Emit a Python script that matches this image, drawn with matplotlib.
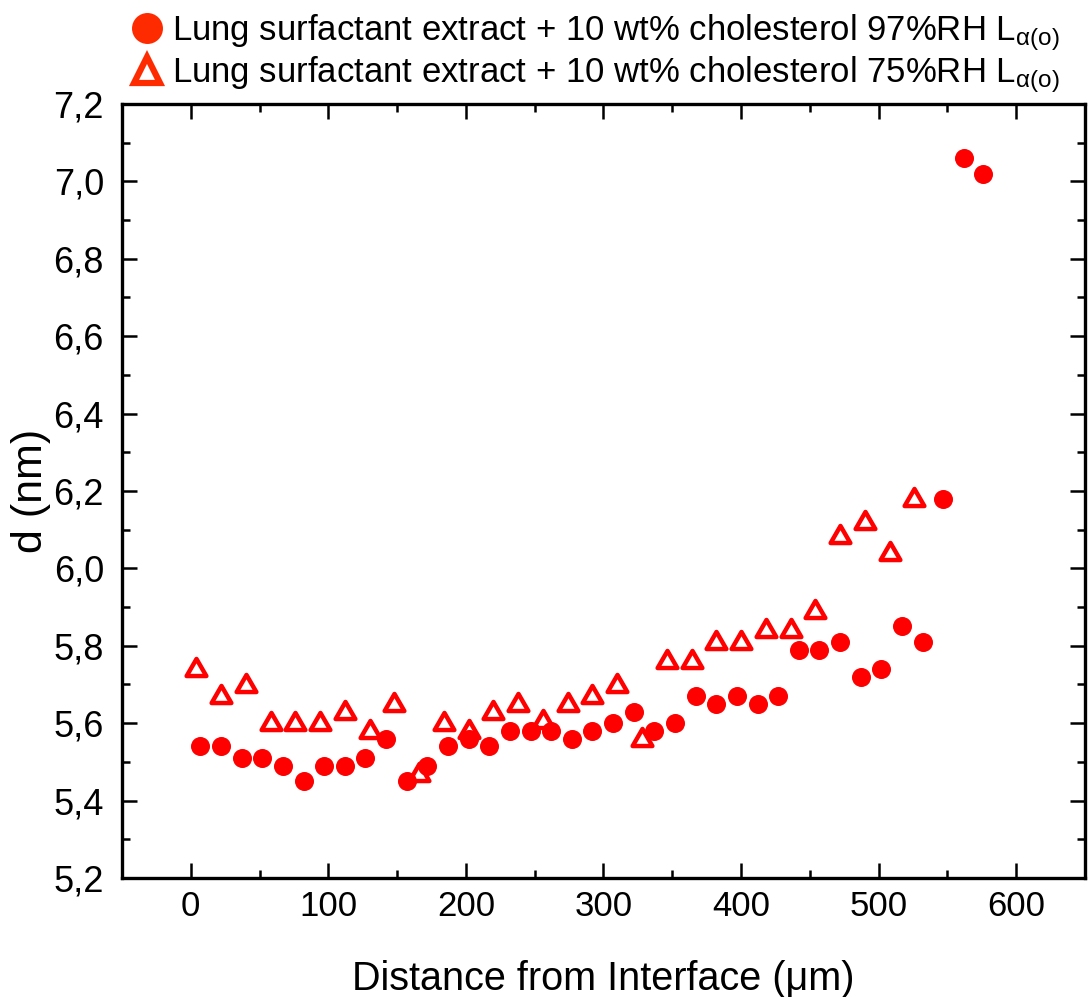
import matplotlib
matplotlib.use("Agg")
import matplotlib.pyplot as plt
from matplotlib.lines import Line2D
from matplotlib.markers import MarkerStyle
from matplotlib.path import Path
from matplotlib.ticker import MultipleLocator, FuncFormatter

plt.rcParams['font.family'] = ['Liberation Sans', 'DejaVu Sans']
plt.rcParams['mathtext.default'] = 'regular'

# 97 %RH, filled circles
x_97 = [7, 22, 37, 52, 67, 82, 97, 112, 127, 142, 157, 172, 187, 202, 217,
        232, 247, 262, 277, 292, 307, 322, 337, 352, 367, 382, 397, 412, 427,
        442, 457, 472, 487, 502, 517, 532, 547, 562, 576]
d_97 = [5.54, 5.54, 5.51, 5.51, 5.49, 5.45, 5.49, 5.49, 5.51, 5.56, 5.45, 5.49,
        5.54, 5.56, 5.54, 5.58, 5.58, 5.58, 5.56, 5.58, 5.60, 5.63, 5.58, 5.60,
        5.67, 5.65, 5.67, 5.65, 5.67, 5.79, 5.79, 5.81, 5.72, 5.74, 5.85, 5.81,
        6.18, 7.06, 7.02]

# 75 %RH, open triangles
x_75 = [4, 22, 40, 58, 76, 94, 112, 130, 148, 166, 184, 202, 220, 238, 256,
        274, 292, 310, 328, 346, 364, 382, 400, 418, 436, 454, 472, 490, 508, 526]
d_75 = [5.745, 5.675, 5.705, 5.605, 5.605, 5.605, 5.635, 5.585, 5.655, 5.475,
        5.605, 5.585, 5.635, 5.655, 5.61, 5.655, 5.675, 5.705, 5.565, 5.765,
        5.765, 5.815, 5.815, 5.845, 5.845, 5.895, 6.09, 6.125, 6.045, 6.185]

label_97 = 'Lung surfactant extract + 10 wt% cholesterol 97%RH L$_{α(o)}$'
label_75 = 'Lung surfactant extract + 10 wt% cholesterol 75%RH L$_{α(o)}$'

red = '#ff0000'
legend_red = '#ff2b00'

# wide equilateral triangle like Origin's
tri = MarkerStyle(Path([(0, 0.866), (-1, -0.866), (1, -0.866), (0, 0.866)],
                       [Path.MOVETO, Path.LINETO, Path.LINETO, Path.CLOSEPOLY]),
                  joinstyle='round')

fig = plt.figure(figsize=(10.88, 9.97), dpi=100)
ax = fig.add_axes([0.1121, 0.1194, 0.8851, 0.7763])

ax.plot(x_75, d_75, linestyle='none', marker=tri, ms=14.2, mfc='white',
        mec=red, mew=3.2, zorder=3)
ax.plot(x_97, d_97, linestyle='none', marker='o', ms=13.7, mfc=red,
        mec=red, mew=0, zorder=4)

ax.set_xlim(-50, 650)
ax.set_ylim(5.2, 7.2)
ax.xaxis.set_major_locator(MultipleLocator(100))
ax.xaxis.set_minor_locator(MultipleLocator(50))
ax.yaxis.set_major_locator(MultipleLocator(0.2))
ax.yaxis.set_minor_locator(MultipleLocator(0.1))
ax.yaxis.set_major_formatter(FuncFormatter(lambda v, p: f'{v:.1f}'.replace('.', ',')))

for s in ax.spines.values():
    s.set_linewidth(2.4)
ax.tick_params(which='both', direction='in', top=True, right=True, width=1.8)
ax.tick_params(which='major', length=10.5)
ax.tick_params(which='minor', length=5.5)
ax.tick_params(axis='x', labelsize=25, pad=9)
ax.tick_params(axis='y', labelsize=26, pad=13)

ax.set_xlabel('Distance from Interface (μm)', fontsize=28.5, labelpad=26)
ax.set_ylabel('d (nm)', fontsize=31, labelpad=2)

handles = [
    Line2D([], [], linestyle='none', marker='o', ms=22.3, mfc=legend_red, mec=legend_red, mew=0),
    Line2D([], [], linestyle='none', marker='^', ms=18.5, mfc='white', mec=legend_red, mew=4.5),
]
fig.legend(handles, [label_97, label_75], loc='upper left',
           bbox_to_anchor=(129 / 1088, 1 - 12 / 997), frameon=False,
           fontsize=25, handlelength=1.05, handletextpad=0.2,
           borderpad=0, borderaxespad=0, labelspacing=0.05)

fig.savefig('out.png', dpi=100)
